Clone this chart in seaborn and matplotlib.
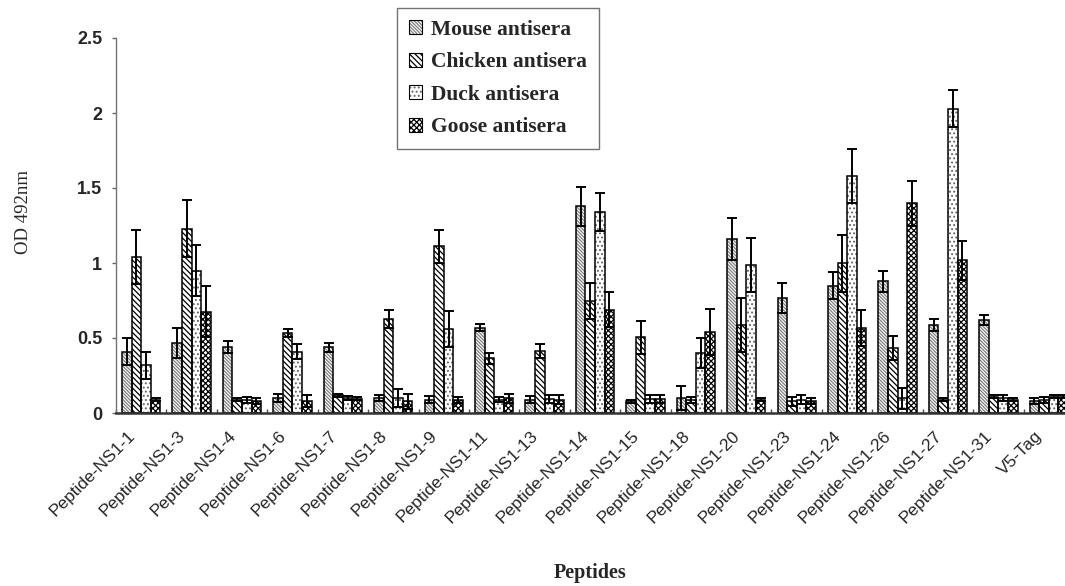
import numpy as np
import pandas as pd
import matplotlib
matplotlib.use("Agg")
import matplotlib.pyplot as plt
import matplotlib.transforms as mtransforms
from matplotlib.patches import Patch
from matplotlib.legend_handler import HandlerTuple
from matplotlib.ticker import FixedLocator
import seaborn as sns

# ---------------- data ----------------
peptides = ['Peptide-NS1-1', 'Peptide-NS1-3', 'Peptide-NS1-4', 'Peptide-NS1-6',
            'Peptide-NS1-7', 'Peptide-NS1-8', 'Peptide-NS1-9', 'Peptide-NS1-11',
            'Peptide-NS1-13', 'Peptide-NS1-14', 'Peptide-NS1-15', 'Peptide-NS1-18',
            'Peptide-NS1-20', 'Peptide-NS1-23', 'Peptide-NS1-24', 'Peptide-NS1-26',
            'Peptide-NS1-27', 'Peptide-NS1-31', 'V5-Tag']
series = ['Mouse antisera', 'Chicken antisera', 'Duck antisera', 'Goose antisera']

mouse = [0.41, 0.47, 0.44, 0.10, 0.44, 0.10, 0.09, 0.57, 0.09, 1.38, 0.08, 0.10,
         1.16, 0.77, 0.85, 0.88, 0.59, 0.62, 0.08]
mouse_err = [0.09, 0.10, 0.04, 0.025, 0.03, 0.02, 0.025, 0.025, 0.025, 0.13, 0.01, 0.08,
             0.14, 0.10, 0.09, 0.07, 0.04, 0.035, 0.02]
chicken = [1.04, 1.23, 0.09, 0.535, 0.12, 0.625, 1.11, 0.365, 0.415, 0.75, 0.505, 0.09,
           0.59, 0.08, 1.00, 0.435, 0.09, 0.11, 0.09]
chicken_err = [0.18, 0.19, 0.01, 0.025, 0.01, 0.06, 0.11, 0.035, 0.045, 0.12, 0.11, 0.02,
               0.18, 0.03, 0.19, 0.08, 0.01, 0.01, 0.02]
duck = [0.32, 0.95, 0.09, 0.41, 0.10, 0.10, 0.56, 0.09, 0.095, 1.34, 0.095, 0.40,
        0.99, 0.09, 1.58, 0.10, 2.03, 0.10, 0.11]
duck_err = [0.09, 0.17, 0.02, 0.05, 0.015, 0.06, 0.12, 0.015, 0.025, 0.125, 0.025, 0.10,
            0.18, 0.03, 0.18, 0.07, 0.125, 0.02, 0.01]
goose = [0.09, 0.675, 0.08, 0.08, 0.095, 0.08, 0.09, 0.10, 0.087, 0.69, 0.093, 0.54,
         0.087, 0.08, 0.57, 1.40, 1.02, 0.09, 0.11]
goose_err = [0.01, 0.17, 0.02, 0.04, 0.01, 0.05, 0.02, 0.03, 0.03, 0.115, 0.025, 0.155,
             0.01, 0.02, 0.12, 0.15, 0.13, 0.01, 0.01]

yticks = [0, 0.5, 1, 1.5, 2, 2.5]
ytick_labels = ['0', '0.5', '1', '1.5', '2', '2.5']

values = [mouse, chicken, duck, goose]
errors = [mouse_err, chicken_err, duck_err, goose_err]

df = pd.DataFrame({
    'peptide': np.tile(peptides, len(series)),
    'serum': np.repeat(series, len(peptides)),
    'value': np.concatenate(values),
})

# ---------------- style ----------------
sns.set_theme(style='ticks')
plt.rcParams['font.family'] = ['Liberation Sans', 'DejaVu Sans']
plt.rcParams['hatch.linewidth'] = 0.9

hatches = [r'\\\\\\\\\\', r'\\\\\\', '....', 'xxxxxx']
hatch_colors = ['0.5', 'black', '0.4', 'black']

W, H = 1065, 586
fig = plt.figure(figsize=(W / 100, H / 100), dpi=100)
# plot area runs slightly past the right edge of the image, as in the reference
ax = fig.add_axes([116 / W, (H - 413) / H, (1074 - 116) / W, 375 / H])

# hatched fill layer
sns.barplot(data=df, x='peptide', y='value', hue='serum', order=peptides,
            hue_order=series, palette=['white'] * 4, width=0.76, gap=0,
            errorbar=None, legend=False, ax=ax, linewidth=0)
for cont, h, hc in zip(ax.containers, hatches, hatch_colors):
    for p in cont:
        p.set_hatch(h)
        p.set_edgecolor(hc)
        p.set_linewidth(0)

# outline layer
sns.barplot(data=df, x='peptide', y='value', hue='serum', order=peptides,
            hue_order=series, palette=['black'] * 4, width=0.76, gap=0,
            errorbar=None, legend=False, ax=ax, fill=False, linewidth=1.1)

# error bars (Excel-style, both caps)
for cont, vals, errs in zip(ax.containers[:4], values, errors):
    xs = [p.get_x() + p.get_width() / 2 for p in cont]
    ax.errorbar(xs, vals, yerr=errs, fmt='none', ecolor='black',
                elinewidth=1.4, capsize=3.6, capthick=1.4, zorder=5)

# axes
ax.set_xlim(-0.5, len(peptides) - 0.5)
ax.set_ylim(0, 2.5)
ax.set_yticks(yticks)
ax.set_yticklabels(ytick_labels, fontweight='bold', fontsize=13)
ax.tick_params(axis='y', direction='out', length=3, width=1, color='0.4', pad=7)
ax.set_xticks(range(len(peptides)))
ax.set_xticklabels(peptides, rotation=45, ha='right', rotation_mode='anchor',
                   fontsize=12.5)
ax.tick_params(axis='x', which='major', length=0, pad=11)
shift = mtransforms.ScaledTranslation(-14 / 100, 0, fig.dpi_scale_trans)
for lab in ax.get_xticklabels():
    lab.set_transform(lab.get_transform() + shift)
ax.xaxis.set_minor_locator(FixedLocator(np.arange(-0.5, len(peptides), 1.0)))
ax.tick_params(axis='x', which='minor', direction='in', length=3, width=1, color='0.3')

for s in ['top', 'right']:
    ax.spines[s].set_visible(False)
ax.spines['left'].set_color('0.45')
ax.spines['left'].set_linewidth(1)
ax.spines['bottom'].set_color('0.2')
ax.spines['bottom'].set_linewidth(1.8)

ax.set_ylabel('OD 492nm', family='Liberation Serif', fontsize=13.5)
ax.yaxis.set_label_coords(-0.088, 0.535)
ax.set_xlabel('Peptides', family='Liberation Serif', fontweight='bold', fontsize=14.5)
ax.xaxis.set_label_coords((590 - 116) / (1074 - 116), -0.40)

# legend
handles = [(Patch(facecolor='white', edgecolor=hc, hatch=h, linewidth=0),
            Patch(fill=False, edgecolor='black', linewidth=0.8))
           for h, hc in zip(hatches, hatch_colors)]
leg = ax.legend(handles, series, handler_map={tuple: HandlerTuple(ndivide=1)},
                loc='upper left', bbox_to_anchor=(397 / W, 1 - 8 / H),
                bbox_transform=fig.transFigure,
                prop={'family': 'Liberation Serif', 'weight': 'bold', 'size': 15.5},
                frameon=True, fancybox=False, edgecolor='0.45', framealpha=1,
                handlelength=0.6, handleheight=0.6, handletextpad=0.45,
                labelspacing=0.58, borderpad=0.55, borderaxespad=0)
leg.get_frame().set_linewidth(1)

fig.savefig('out.png', dpi=100)
